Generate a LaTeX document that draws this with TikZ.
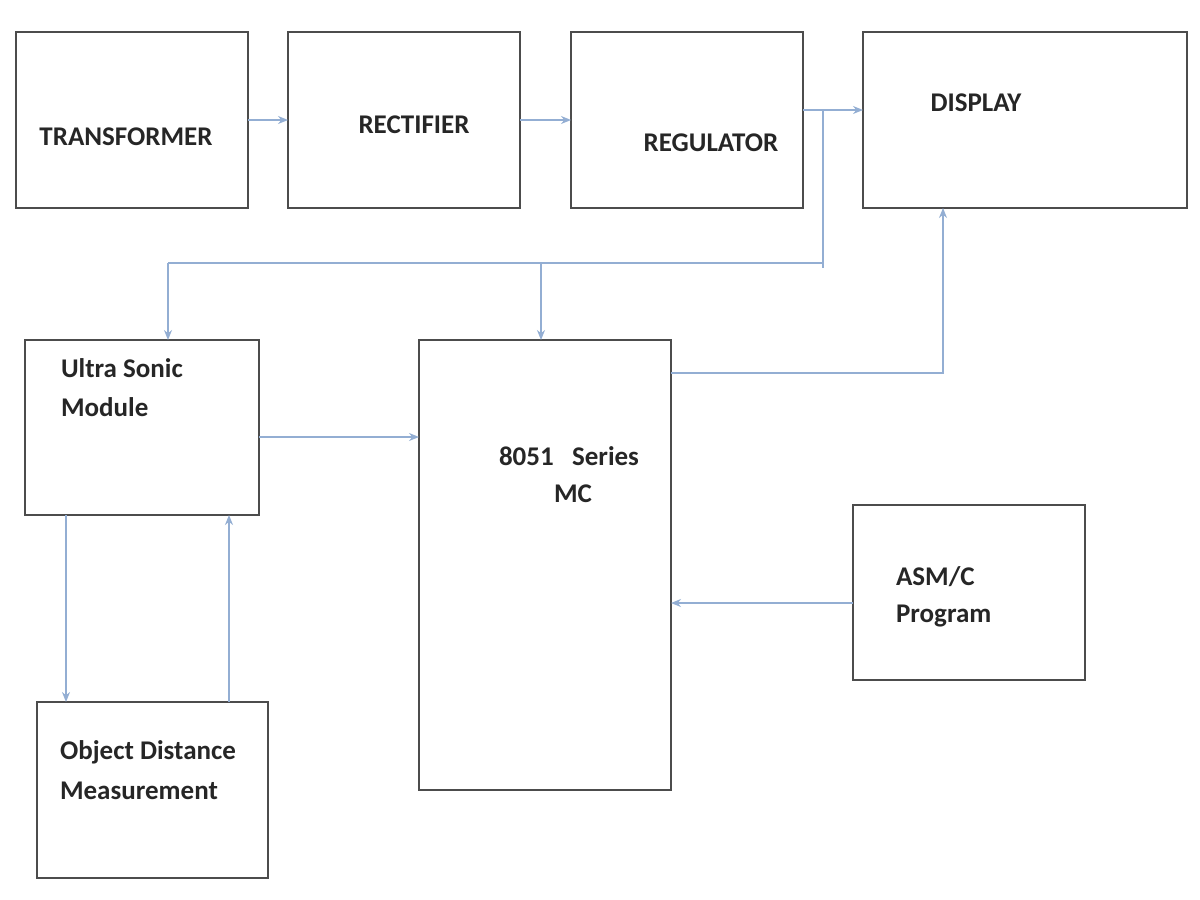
\documentclass[tikz,border=0pt]{standalone}
\usepackage{fontspec}
\setmainfont{Carlito}
\usetikzlibrary{arrows.meta}
\definecolor{cn}{HTML}{93AED3}
\begin{document}
\begin{tikzpicture}[x=0.5pt,y=-0.5pt,
  box/.style={draw=black!70,line width=0.8pt},
  lbl/.style={font=\fontsize{13.5}{16}\selectfont\bfseries,text=black!85},
  conn/.style={draw=cn,line width=1.2pt},
  arr/.style={conn,-{Stealth[length=5pt,width=4pt]}}]
\useasboundingbox (0,0) rectangle (1200,900);
\draw[box] (16,32) rectangle (248,208);
\draw[box] (288,32) rectangle (520,208);
\draw[box] (571,32) rectangle (803,208);
\draw[box] (863,32) rectangle (1187,208);
\draw[box] (25,340) rectangle (259,515);
\draw[box] (419,340) rectangle (671,790);
\draw[box] (853,505) rectangle (1085,680);
\draw[box] (37,702) rectangle (268,878);
\node[lbl] (t) at (126,137) {TRANSFORMER};
\node[lbl] (r) at (414,125) {RECTIFIER};
\node[lbl] (g) at (711,143) {REGULATOR};
\node[lbl] (d) at (976,103) {DISPLAY};
\node[lbl,anchor=west] (u1) at (54,368) {Ultra Sonic};
\node[lbl,anchor=west] (u2) at (54,407) {Module};
\node[lbl] (m1) at (569,456) {8051\ \ \ Series};
\node[lbl] (m2) at (573,494) {MC};
\node[lbl,anchor=west] (a1) at (889,577) {ASM/C};
\node[lbl,anchor=west] (a2) at (889,616) {Program};
\node[lbl,anchor=west] (o1) at (53,752) {Object Distance};
\node[lbl,anchor=west] (o2) at (53,791) {Measurement};
\coordinate (j) at (823,110);
\coordinate (jb) at (823,268);
\coordinate (h) at (823,263);
\coordinate (hl) at (168,263);
\coordinate (hm) at (541,263);
\draw[arr] (248,120) -- (288,120);
\draw[arr] (520,120) -- (571,120);
\draw[arr] (803,110) -- (863,110);
\draw[conn] (j) -- (jb);
\draw[conn] (h) -- (hl);
\draw[arr] (hl) -- (168,340);
\draw[arr] (hm) -- (541,340);
\draw[arr] (671,373) -- (943,373) -- (943,208);
\draw[arr] (259,437) -- (419,437);
\draw[arr] (853,603) -- (671,603);
\draw[arr] (66,515) -- (66,702);
\draw[arr] (229,702) -- (229,515);
\end{tikzpicture}
\end{document}
